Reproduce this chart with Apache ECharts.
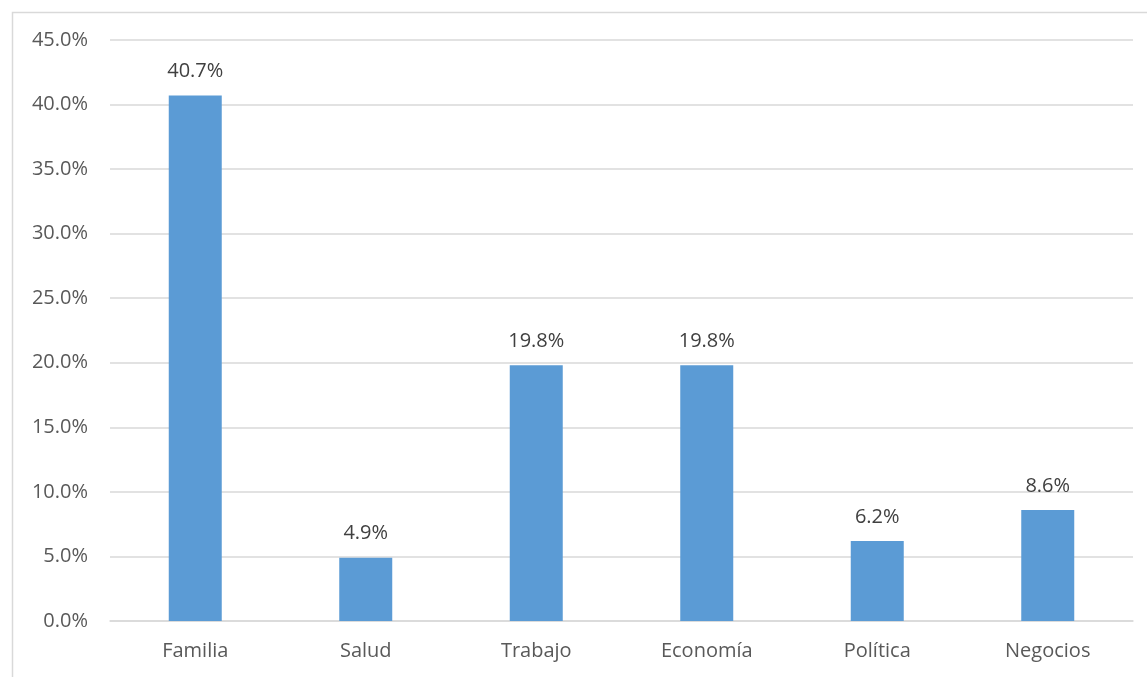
<!DOCTYPE html>
<html>
<head>
<meta charset="utf-8">
<script src="https://cdn.jsdelivr.net/npm/echarts@6/dist/echarts.min.js"></script>
<style>html,body{margin:0;padding:0;background:#fff;}#c{width:1147px;height:677px;}</style>
</head>
<body>
<div id="c"></div>
<script>
const categories = ['Familia', 'Salud', 'Trabajo', 'Economía', 'Política', 'Negocios'];
const values = [40.7, 4.9, 19.8, 19.8, 6.2, 8.6];
const yMin = 0, yMax = 45, yStep = 5;

const chart = echarts.init(document.getElementById('c'), null, {renderer: 'canvas'});
const font = '"Open Sans", sans-serif';
chart.setOption({
  animation: false,
  backgroundColor: '#fff',
  graphic: [{
    type: 'rect', left: 10, top: 10, silent: true,
    shape: {width: 1200, height: 700},
    style: {fill: 'none', stroke: '#d9d9d9', lineWidth: 1.5}
  }],
  grid: {left: 110, right: 14, top: 40, bottom: 56, containLabel: false},
  xAxis: {
    type: 'category', data: categories,
    axisLine: {lineStyle: {color: '#d9d9d9', width: 1.5}},
    axisTick: {show: false},
    axisLabel: {color: '#595959', fontFamily: font, fontSize: 20, margin: 20}
  },
  yAxis: {
    type: 'value', min: yMin, max: yMax, interval: yStep,
    axisLine: {show: false}, axisTick: {show: false},
    splitLine: {lineStyle: {color: '#d9d9d9', width: 1.5}},
    axisLabel: {color: '#595959', fontFamily: font, fontSize: 20, margin: 22,
      formatter: v => v.toFixed(1) + '%'}
  },
  series: [{
    type: 'bar', data: values, barWidth: 53,
    itemStyle: {color: '#5b9bd5'},
    label: {show: true, position: 'top', distance: 14, color: '#404040',
      fontFamily: font, fontSize: 20, formatter: p => p.value.toFixed(1) + '%'}
  }]
});
</script>
</body>
</html>
